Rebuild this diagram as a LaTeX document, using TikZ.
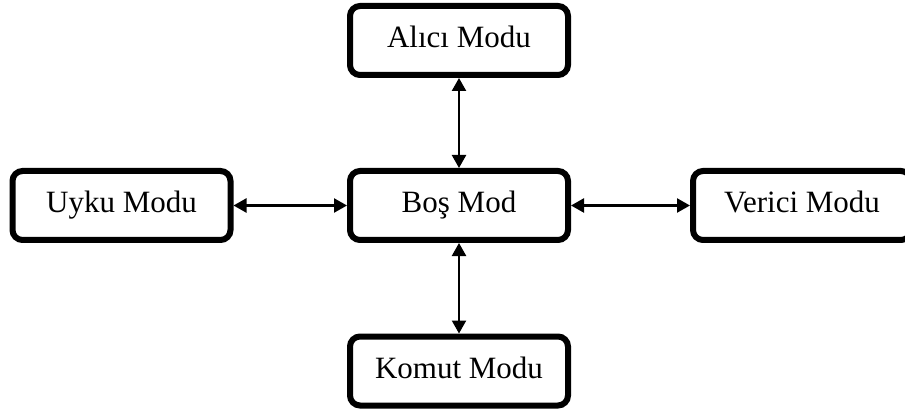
\documentclass[tikz,border=0pt]{standalone}
\usepackage{fontspec}
\setmainfont{Liberation Serif}
\usetikzlibrary{arrows.meta}
\begin{document}
\begin{tikzpicture}[x=1pt,y=-1pt,
  modebox/.style={draw=black, line width=6pt, rounded corners=10pt,
    minimum width=218pt, minimum height=69pt, inner sep=0pt,
    text height=21pt, text depth=6pt,
    font=\fontsize{31}{36}\selectfont, fill=white},
  link/.style={line width=2.3pt, {Triangle[length=13pt,width=14pt]}-{Triangle[length=13pt,width=14pt]}}
]
\clip (0,0) rectangle (905,414);
\fill[white] (0,0) rectangle (905,414);
\node[modebox] (alici)  at (459,40.5)  {Alıcı Modu};
\node[modebox] (bos)    at (459,205.5) {Boş Mod};
\node[modebox] (komut)  at (459,371)   {Komut Modu};
\node[modebox] (uyku)   at (121.5,205.5) {Uyku Modu};
\node[modebox] (verici) at (802,205.5) {Verici Modu};
\draw[link] (alici.south) -- (bos.north);
\draw[link] (bos.south) -- (komut.north);
\draw[link] (uyku.east) -- (bos.west);
\draw[link] (bos.east) -- (verici.west);
\end{tikzpicture}
\end{document}
